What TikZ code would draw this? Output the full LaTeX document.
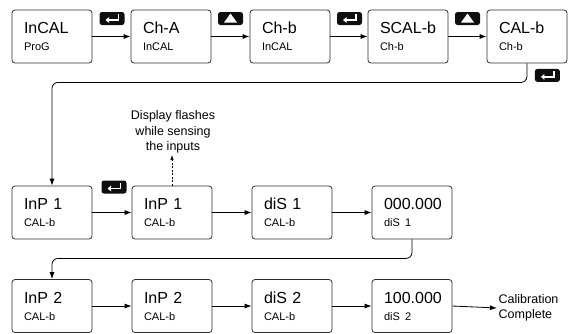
\documentclass[tikz,border=0pt]{standalone}
\usepackage{fontspec}
\setmainfont{Liberation Sans}
\usepackage{tikz}
\usetikzlibrary{arrows.meta,positioning,calc}
\definecolor{framegray}{RGB}{45, 45, 45}
\definecolor{keyblack}{RGB}{15, 15, 15}

\newcommand{\lcdsmall}{\fontsize{11}{17}\selectfont}
\newcommand{\lcd}[2]{\mbox{#1}\\{\lcdsmall\mbox{#2}}}
% black key icons: name, position
\newcommand{\enterkey}[2]{%
  \node[keybox] (#1) at (#2) {};
  \draw[white, line width=1.3pt, -{Triangle[length=3.5pt,width=5.5pt]}] ($(#1.center)+(6.5,-4.5)$) -- ++(0,6) -- ++(-13,0);
}
\newcommand{\upkey}[2]{%
  \node[keybox] (#1) at (#2) {};
  \fill[white] ($(#1.center)+(-6.5,4)$) -- ++(13,0) -- ++(-6.5,-9) -- cycle;
}

\begin{document}
\begin{tikzpicture}[
  x=1pt, y=-1pt,
  dispbox/.style={rectangle, draw=framegray, rounded corners=3pt, line width=0.8pt, minimum width=80pt, minimum height=53pt, text width=56pt, inner xsep=12pt, align=left, font=\fontsize{16}{17}\selectfont},
  keybox/.style={rectangle, fill=keyblack, rounded corners=2.5pt, minimum width=25pt, minimum height=13pt, inner sep=0pt},
  flow/.style={-{Latex[length=7pt,width=5pt]}, line width=0.8pt, color=black},
  notetext/.style={align=center, font=\fontsize{12.5}{15.5}\selectfont, inner sep=1.5pt}
]
\useasboundingbox (0,0) rectangle (568,333);

% Row 1: channel B calibration menu
\node[dispbox] (a1) at (52,36.5) {\lcd{InCAL}{ProG}};
\node[dispbox] (a2) at (171,36.5) {\lcd{Ch-A}{InCAL}};
\node[dispbox] (a3) at (290,36.5) {\lcd{Ch-b}{InCAL}};
\node[dispbox] (a4) at (408,36.5) {\lcd{SCAL-b}{Ch-b}};
\node[dispbox] (a5) at (527,36.5) {\lcd{CAL-b}{Ch-b}};
\draw[flow] (a1.east) -- (a2.west);
\draw[flow] (a2.east) -- (a3.west);
\draw[flow] (a3.east) -- (a4.west);
\draw[flow] (a4.east) -- (a5.west);
\enterkey{k1}{$(a1.east)!0.5!(a2.west)+(0.5,-18)$}
\upkey{k2}{$(a2.east)!0.5!(a3.west)+(0,-18)$}
\enterkey{k3}{$(a3.east)!0.5!(a4.west)+(0.5,-18)$}
\upkey{k4}{$(a4.east)!0.5!(a5.west)+(0,-18)$}
\enterkey{k5}{$(a5.south east)+(-20,12)$}

% Row 2: input 1
\node[dispbox] (b1) at (52,212.5) {\lcd{InP 1}{CAL-b}};
\node[dispbox] (b2) at (172,212.5) {\lcd{InP 1}{CAL-b}};
\node[dispbox] (b3) at (292,212.5) {\lcd{diS 1}{CAL-b}};
\node[dispbox] (b4) at (412,212.5) {\lcd{000.000}{diS 1}};
\draw[flow, rounded corners=6pt] (a5.south) -- ++(0,19) -| (b1.north);
\draw[flow] (b1.east) -- (b2.west);
\draw[flow] (b2.east) -- (b3.west);
\draw[flow] (b3.east) -- (b4.west);
\enterkey{k6}{$(b1.east)!0.5!(b2.west)+(2,-25.5)$}

% Flashing note
\node[notetext] (flash) at (173,132) {Display flashes\\while sensing\\the inputs};
\draw[-{Latex[length=5pt,width=3.5pt]}, line width=0.6pt, dash pattern=on 2pt off 1.5pt] (b2.north) -- (b2.north |- flash.south);

% Row 3: input 2
\node[dispbox] (c1) at (52,306) {\lcd{InP 2}{CAL-b}};
\node[dispbox] (c2) at (172,306) {\lcd{InP 2}{CAL-b}};
\node[dispbox] (c3) at (292,306) {\lcd{diS 2}{CAL-b}};
\node[dispbox] (c4) at (412,306) {\lcd{100.000}{diS 2}};
\draw[flow, rounded corners=6pt] (b4.south) -- ++(0,19) -| (c1.north);
\draw[flow] (c1.east) -- (c2.west);
\draw[flow] (c2.east) -- (c3.west);
\draw[flow] (c3.east) -- (c4.west);

% End
\node[notetext, align=left, anchor=west] (done) at (497,308) {Calibration\\Complete};
\draw[flow] (c4.east) -- (done.west);

\end{tikzpicture}
\end{document}
